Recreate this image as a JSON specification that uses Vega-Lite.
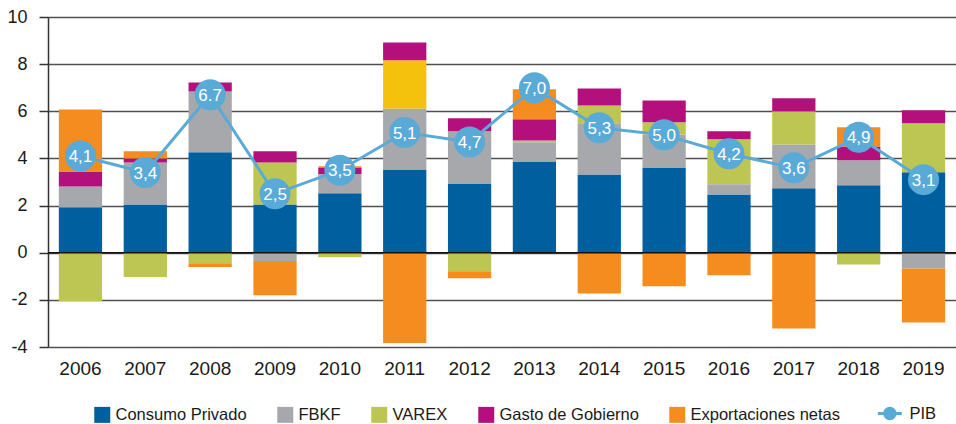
{
  "$schema": "https://vega.github.io/schema/vega-lite/v6.json",
  "autosize": {"type": "none"},
  "padding": {"left": 48, "top": 17, "right": 0, "bottom": 77},
  "width": 908,
  "height": 330,
  "background": "white",
  "config": {
    "view": {"stroke": null},
    "font": "Liberation Sans",
    "axis": {"labelFont": "Liberation Sans", "labelColor": "#1a1a1a"},
    "legend": {"labelFont": "Liberation Sans"}
  },
  "datasets": {
    "componentes": [
      {"anio": "2006", "serie": "Consumo Privado", "valor": 1.93},
      {"anio": "2006", "serie": "FBKF", "valor": 0.88},
      {"anio": "2006", "serie": "VAREX", "valor": -2.05},
      {"anio": "2006", "serie": "Gasto de Gobierno", "valor": 0.64},
      {"anio": "2006", "serie": "Exportaciones netas", "valor": 2.63},
      {"anio": "2007", "serie": "Consumo Privado", "valor": 2.05},
      {"anio": "2007", "serie": "FBKF", "valor": 1.78},
      {"anio": "2007", "serie": "VAREX", "valor": -1.03},
      {"anio": "2007", "serie": "Gasto de Gobierno", "valor": 0.17},
      {"anio": "2007", "serie": "Exportaciones netas", "valor": 0.30},
      {"anio": "2008", "serie": "Consumo Privado", "valor": 4.26},
      {"anio": "2008", "serie": "FBKF", "valor": 2.58},
      {"anio": "2008", "serie": "VAREX", "valor": -0.45},
      {"anio": "2008", "serie": "Gasto de Gobierno", "valor": 0.38},
      {"anio": "2008", "serie": "Exportaciones netas", "valor": -0.16},
      {"anio": "2009", "serie": "Consumo Privado", "valor": 2.05},
      {"anio": "2009", "serie": "FBKF", "valor": -0.35},
      {"anio": "2009", "serie": "VAREX", "valor": 1.78},
      {"anio": "2009", "serie": "Gasto de Gobierno", "valor": 0.47},
      {"anio": "2009", "serie": "Exportaciones netas", "valor": -1.45},
      {"anio": "2010", "serie": "Consumo Privado", "valor": 2.52},
      {"anio": "2010", "serie": "FBKF", "valor": 0.82},
      {"anio": "2010", "serie": "VAREX", "valor": -0.19},
      {"anio": "2010", "serie": "Gasto de Gobierno", "valor": 0.25},
      {"anio": "2010", "serie": "Exportaciones netas", "valor": 0.08},
      {"anio": "2011", "serie": "Consumo Privado", "valor": 3.53},
      {"anio": "2011", "serie": "FBKF", "valor": 2.59},
      {"anio": "2011", "serie": "VAREX 2011", "valor": 2.04},
      {"anio": "2011", "serie": "Gasto de Gobierno", "valor": 0.76},
      {"anio": "2011", "serie": "Exportaciones netas", "valor": -3.83},
      {"anio": "2012", "serie": "Consumo Privado", "valor": 2.94},
      {"anio": "2012", "serie": "FBKF", "valor": 2.21},
      {"anio": "2012", "serie": "VAREX", "valor": -0.79},
      {"anio": "2012", "serie": "Gasto de Gobierno", "valor": 0.55},
      {"anio": "2012", "serie": "Exportaciones netas", "valor": -0.29},
      {"anio": "2013", "serie": "Consumo Privado", "valor": 3.87},
      {"anio": "2013", "serie": "FBKF", "valor": 0.82},
      {"anio": "2013", "serie": "VAREX", "valor": 0.07},
      {"anio": "2013", "serie": "Gasto de Gobierno", "valor": 0.90},
      {"anio": "2013", "serie": "Exportaciones netas", "valor": 1.28},
      {"anio": "2014", "serie": "Consumo Privado", "valor": 3.32},
      {"anio": "2014", "serie": "FBKF", "valor": 2.17},
      {"anio": "2014", "serie": "VAREX", "valor": 0.76},
      {"anio": "2014", "serie": "Gasto de Gobierno", "valor": 0.72},
      {"anio": "2014", "serie": "Exportaciones netas", "valor": -1.73},
      {"anio": "2015", "serie": "Consumo Privado", "valor": 3.62},
      {"anio": "2015", "serie": "FBKF", "valor": 1.40},
      {"anio": "2015", "serie": "VAREX", "valor": 0.51},
      {"anio": "2015", "serie": "Gasto de Gobierno", "valor": 0.93},
      {"anio": "2015", "serie": "Exportaciones netas", "valor": -1.42},
      {"anio": "2016", "serie": "Consumo Privado", "valor": 2.47},
      {"anio": "2016", "serie": "FBKF", "valor": 0.43},
      {"anio": "2016", "serie": "VAREX", "valor": 1.91},
      {"anio": "2016", "serie": "Gasto de Gobierno", "valor": 0.34},
      {"anio": "2016", "serie": "Exportaciones netas", "valor": -0.96},
      {"anio": "2017", "serie": "Consumo Privado", "valor": 2.73},
      {"anio": "2017", "serie": "FBKF", "valor": 1.86},
      {"anio": "2017", "serie": "VAREX", "valor": 1.41},
      {"anio": "2017", "serie": "Gasto de Gobierno", "valor": 0.55},
      {"anio": "2017", "serie": "Exportaciones netas", "valor": -3.21},
      {"anio": "2018", "serie": "Consumo Privado", "valor": 2.86},
      {"anio": "2018", "serie": "FBKF", "valor": 1.06},
      {"anio": "2018", "serie": "VAREX", "valor": -0.50},
      {"anio": "2018", "serie": "Gasto de Gobierno", "valor": 0.59},
      {"anio": "2018", "serie": "Exportaciones netas", "valor": 0.81},
      {"anio": "2019", "serie": "Consumo Privado", "valor": 3.41},
      {"anio": "2019", "serie": "FBKF", "valor": -0.67},
      {"anio": "2019", "serie": "VAREX", "valor": 2.08},
      {"anio": "2019", "serie": "Gasto de Gobierno", "valor": 0.55},
      {"anio": "2019", "serie": "Exportaciones netas", "valor": -2.29}
    ],
    "pib": [
      {"anio": "2006", "pib": 4.1, "etiqueta": "4,1"},
      {"anio": "2007", "pib": 3.4, "etiqueta": "3,4"},
      {"anio": "2008", "pib": 6.7, "etiqueta": "6.7"},
      {"anio": "2009", "pib": 2.5, "etiqueta": "2,5"},
      {"anio": "2010", "pib": 3.5, "etiqueta": "3,5"},
      {"anio": "2011", "pib": 5.1, "etiqueta": "5,1"},
      {"anio": "2012", "pib": 4.7, "etiqueta": "4,7"},
      {"anio": "2013", "pib": 7.0, "etiqueta": "7,0"},
      {"anio": "2014", "pib": 5.3, "etiqueta": "5,3"},
      {"anio": "2015", "pib": 5.0, "etiqueta": "5,0"},
      {"anio": "2016", "pib": 4.2, "etiqueta": "4,2"},
      {"anio": "2017", "pib": 3.6, "etiqueta": "3,6"},
      {"anio": "2018", "pib": 4.9, "etiqueta": "4,9"},
      {"anio": "2019", "pib": 3.1, "etiqueta": "3,1"}
    ]
  },
  "layer": [
    {
      "data": {"name": "componentes"},
      "transform": [
        {"calculate": "indexof(['Consumo Privado', 'FBKF', 'VAREX', 'VAREX 2011', 'Gasto de Gobierno', 'Exportaciones netas'], datum.serie)", "as": "orden"}
      ],
      "mark": {"type": "bar"},
      "encoding": {
        "x": {
          "field": "anio", "type": "ordinal",
          "scale": {"paddingInner": 0.333, "paddingOuter": 0.167},
          "axis": {"title": null, "labelAngle": 0, "labelFontSize": 19, "labelPadding": 12, "ticks": false, "domain": false, "grid": false}
        },
        "y": {
          "field": "valor", "type": "quantitative", "stack": "zero",
          "scale": {"domain": [-4, 10]},
          "axis": {"title": null, "values": [-4, -2, 0, 2, 4, 6, 8, 10], "labelExpr": "'' + datum.value", "labelFontSize": 18, "labelPadding": 12, "tickSize": 9, "tickColor": "#333", "tickWidth": 1.5, "domainColor": "#333", "domainWidth": 1.5, "gridColor": "#505050", "gridWidth": 1.5}
        },
        "order": {"field": "orden", "type": "quantitative", "sort": "ascending"},
        "color": {
          "field": "serie", "type": "nominal",
          "scale": {
            "domain": ["Consumo Privado", "FBKF", "VAREX", "VAREX 2011", "Gasto de Gobierno", "Exportaciones netas", "PIB"],
            "range": ["#005F9E", "#A7A8AB", "#BDC653", "#F4C20D", "#B3107D", "#F58C1F", "#5AAAD8"]
          },
          "legend": {
            "title": null,
            "orient": "none",
            "legendX": 46,
            "legendY": 388,
            "direction": "horizontal",
            "values": ["Consumo Privado", "FBKF", "VAREX", "Gasto de Gobierno", "Exportaciones netas", "PIB"],
            "labelFontSize": 16.5,
            "labelLimit": 400,
            "labelColor": "#1a1a1a",
            "labelOffset": 5,
            "columnPadding": 30,
            "symbolSize": 256,
            "symbolType": "square",
            "symbolStrokeWidth": 0,
            "encode": {
              "symbols": {
                "update": {
                  "shape": {"signal": "datum.value === 'PIB' ? 'M-2.3,0L0.7,0M-1.45,0A0.65,0.65,0,1,1,-0.15,0A0.65,0.65,0,1,1,-1.45,0Z' : 'square'"},
                  "stroke": {"signal": "scale('color', datum.value)"},
                  "strokeWidth": {"signal": "datum.value === 'PIB' ? 3 : 0"},
                  "fill": {"signal": "scale('color', datum.value)"},
                  "opacity": {"value": 1}
                }
              }
            }
          }
        }
      }
    },
    {
      "data": {"values": [{"cero": 0}]},
      "mark": {"type": "rule", "color": "#111", "strokeWidth": 1.5},
      "encoding": {"y": {"field": "cero", "type": "quantitative"}}
    },
    {
      "data": {"name": "pib"},
      "mark": {"type": "line", "color": "#5AAAD8", "strokeWidth": 3},
      "encoding": {"x": {"field": "anio", "type": "ordinal"}, "y": {"field": "pib", "type": "quantitative"}}
    },
    {
      "data": {"name": "pib"},
      "mark": {"type": "point", "filled": true, "color": "#5AAAD8", "opacity": 1, "size": 960, "shape": "circle"},
      "encoding": {"x": {"field": "anio", "type": "ordinal"}, "y": {"field": "pib", "type": "quantitative"}}
    },
    {
      "data": {"name": "pib"},
      "mark": {"type": "text", "color": "white", "fontSize": 17, "font": "Liberation Sans", "align": "center", "baseline": "middle", "dy": 1},
      "encoding": {"x": {"field": "anio", "type": "ordinal"}, "y": {"field": "pib", "type": "quantitative"}, "text": {"field": "etiqueta"}}
    }
  ]
}
